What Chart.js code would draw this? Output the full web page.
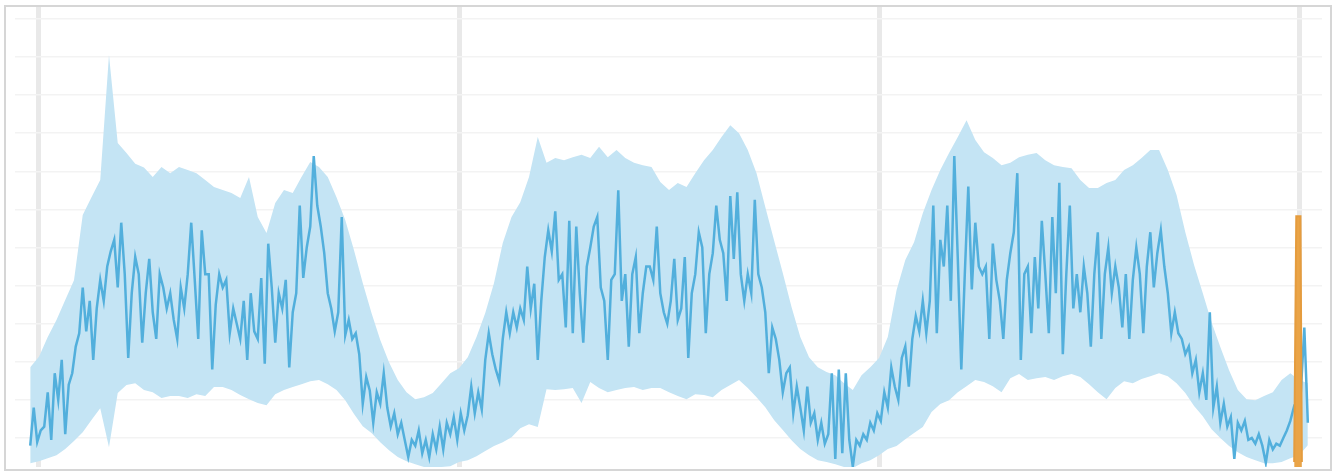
<!DOCTYPE html>
<html>
<head>
<meta charset="utf-8">
<title>Load over three days</title>
<script src="https://cdn.jsdelivr.net/npm/chart.js@4/dist/chart.umd.min.js"></script>
<style>
  html, body { margin: 0; padding: 0; background: #ffffff; }
  #wrap { position: relative; width: 1342px; height: 473px; }
  #wrap canvas { position: absolute; left: 0; top: 0; }
  #frame {
    position: absolute; left: 4px; top: 5px;
    width: 1324px; height: 462px;
    border: 2px solid #d6d6d6; pointer-events: none;
  }
</style>
</head>
<body>
<div id="wrap">
  <canvas id="chart" width="1342" height="473"></canvas>
  <div id="frame"></div>
</div>
<script>
// Time axis: hours from the first midnight
const seriesStartHour = -0.5;
const loadStepHours = 0.2;     // 12-minute samples
const bandStepHours = 0.5;     // 30-minute envelope samples
const dayTicks = [0, 24, 48, 72];
const levelTicks = [10, 20, 30, 40, 50, 60, 70, 80, 90, 100, 110, 120];

// Measured load
const load = [
  8, 18, 9, 12, 13, 22, 9.5, 27, 20, 30.5,
  11, 24, 27, 34, 37.5, 49.5, 38, 46, 30.5, 44,
  51.5, 46, 55, 59, 62, 49.5, 66.5, 53, 31, 48,
  57.5, 53, 35, 48, 57, 43, 36, 53, 49.5, 44,
  48, 41, 36, 49.5, 44, 53, 66.5, 51.5, 36, 64.5,
  53, 53, 28, 45, 53, 49.5,
  51.5, 37.5, 44, 40, 36, 46, 30.5, 48, 38, 36,
  52, 29.5, 61, 49.5, 35, 48, 44, 51.5, 28.5, 43,
  48, 71, 52, 60, 65.5, 84, 71, 65.5, 58.5, 48,
  44, 38, 43, 68, 37, 41, 36, 37.5, 32, 19,
  26, 22.5, 14, 22, 19, 27, 18, 13, 16.5, 11,
  14, 9.5, 5, 9.5, 8, 12, 6, 9.5, 5, 11,
  7, 13, 7, 14,
  11, 15.5, 9.5, 16.5, 12, 16, 23.5, 16.5, 22, 17.5,
  30.5, 37.5, 32, 28, 25, 36, 43, 37.5, 43, 39,
  44, 41, 55, 44, 50.5, 30.5, 46, 57.5, 64.5, 59,
  69.5, 51.5, 53, 39, 67, 37.5, 65.5, 48, 35, 55,
  60, 65.5, 68, 49.5, 46, 30.5, 51.5, 53, 75, 46,
  53, 34, 53, 57.5, 37.5, 48, 55, 55, 51.5, 65.5,
  48, 43, 40, 46,
  57, 41, 44, 57.5, 31, 48, 53, 64, 60, 37.5,
  53, 58.5, 71, 62, 58.5, 46, 73.5, 57, 74.5, 53,
  46, 53, 48, 72.5, 53, 49.5, 43, 27, 39, 36,
  30.5, 22, 27, 28.5, 16.5, 23.5, 18, 12, 23.5, 14,
  16.5, 9.5, 14, 8.5, 11, 27, 4.5, 28, 6, 27,
  9.5, 2.5, 9.5, 8, 11, 9.5, 14, 12, 16.5, 14.5,
  22, 18, 28.5, 23.5,
  20, 31, 34, 23.5, 36, 42, 38, 46, 37.5, 46,
  71, 37.5, 62, 55, 71, 46, 84, 57, 28, 53,
  76, 49, 66.5, 55, 53, 55, 36, 61, 51.5, 46,
  36, 51.5, 58.5, 64, 79.5, 30.5, 53, 55, 37.5, 57.5,
  44, 67, 53, 37.5, 68, 48, 77, 32, 53, 71,
  44, 53, 43, 55, 48, 34, 53, 64, 36, 53,
  60, 48, 55, 49.5,
  39, 53, 36, 51.5, 60, 53, 37.5, 55, 64, 49.5,
  58.5, 64.5, 55, 48, 37.5, 43, 37.5, 36, 32, 34,
  27, 30.5, 22, 27, 20, 43, 18, 23.5, 14, 19,
  13, 15.5, 4.5, 14, 12, 14.5, 9.5, 10, 8.5, 11,
  8, 3.5, 9.5, 7, 8.5, 8, 10, 12, 14.5, 18,
  16, 22, 39, 14
];

// Envelope of expected load (upper and lower bound)
const bandUpper = [
  28.6, 31.3, 36.5, 41, 46.2, 51.4, 68.5, 73.2, 77.7, 110.5,
  87.4, 84.8, 82, 81, 78.5, 81.1, 79.5, 81.1, 80.3, 79.5,
  77.7, 75.9, 75.1, 74.3, 73, 78.5, 68, 63.8, 71.7, 75.1,
  74.3, 78.5, 82.4, 81.1, 78.5, 73.2, 67.2, 59.3, 50.7, 42.8,
  35.7, 29.9, 25.2, 22, 20.2, 20.7, 21.8, 24.4, 27, 28.3,
  31.2, 36.5, 42.8, 50.7, 61.2, 68, 71.9, 78.5, 89, 82.2,
  83.5, 82.9, 83.7, 84.3, 83.5, 86.4, 83.7, 85.6, 83.5, 82.2,
  81.6, 81.1, 77.2, 75.1, 76.9, 75.9, 79.5, 82.9, 85.6, 89,
  92.1, 90, 85.6, 79.5, 70.6, 61.9, 53.3, 44.4, 36.5, 31.2,
  28.6, 27.3, 26.5, 24.4, 22.6, 26.5, 28.6, 31, 36.5, 48.8,
  56.7, 61.4, 69, 75.1, 80.3, 84.8, 89, 93.4, 88.2, 85,
  83.5, 81.6, 82.2, 83.7, 84.3, 84.8, 82.9, 81.6, 81.1, 80.8,
  77.7, 75.6, 75.6, 76.9, 77.7, 80.3, 81.6, 83.5, 85.6, 85.6,
  80.3, 73.8, 64, 55.4, 48, 40.4, 33.9, 27.8, 22.6, 20.2,
  19.9, 21, 22, 25.2, 27, 25.2, 24.4
];
const bandLower = [
  3.4, 3.9, 4.7, 5.5, 7.1, 9.2, 11.5, 14.7, 17.8, 7.6,
  21.8, 23.9, 24.4, 22.6, 22, 20.5, 21, 21, 20.5, 21.5,
  21, 23.4, 23.4, 22.6, 21.3, 20.2, 19.2, 18.6, 21.5, 22.6,
  23.4, 24.1, 24.9, 25.2, 24.1, 22.6, 19.9, 16.3, 13.1, 11.3,
  8.9, 6.8, 5, 3.9, 3.1, 2.4, 2.4, 2.4, 2.6, 3.7,
  4.2, 5.2, 6.6, 7.9, 8.9, 10.2, 12.6, 13.6, 12.9, 22.8,
  22.6, 22.8, 23.1, 19.2, 24.7, 23.1, 22, 22.6, 23.1, 23.4,
  22.6, 23.1, 23.1, 22, 21, 20.2, 21.5, 21.3, 20.7, 22.6,
  23.9, 25.2, 23.1, 20.7, 18.1, 14.7, 12.1, 9.4, 7.1, 5.5,
  4.2, 3.7, 3.1, 2.4, 2.1, 3.4, 4.2, 5.5, 7.1, 7.9,
  9.7, 11.3, 12.9, 16.8, 18.9, 19.9, 22, 23.6, 25.2, 24.7,
  23.6, 22, 25.7, 26.8, 25.2, 25.7, 26, 25.2, 26.2, 26.8,
  26, 24.1, 22, 20.2, 23.1, 24.9, 24.4, 25.5, 26.2, 27,
  26.2, 24.4, 21.8, 18.4, 15.7, 12.3, 10, 7.9, 6.3, 5,
  4.2, 3.4, 3.4, 3.7, 4.7, 5.5, 8.1
];

// Latest reading (highlighted burst)
const latestHours = [71.72, 71.84, 72.08, 72.16];
const latestValues = [3.7, 68.2, 68.2, 3.7];

const toPoints = (values, start, step) =>
  values.map((v, i) => ({ x: start + i * step, y: v }));

const fixedTicks = list => scale => {
  scale.ticks = list.map(v => ({ value: v }));
};

new Chart(document.getElementById('chart'), {
  type: 'line',
  data: {
    datasets: [
      {
        label: 'Latest',
        data: latestHours.map((h, i) => ({ x: h, y: latestValues[i] })),
        borderColor: '#e59c3e',
        backgroundColor: '#eaa447',
        borderWidth: 2,
        fill: 'origin',
        order: 0
      },
      {
        label: 'Load',
        data: toPoints(load, seriesStartHour, loadStepHours),
        borderColor: '#52afdc',
        borderWidth: 2.5,
        fill: false,
        order: 1
      },
      {
        label: 'Upper bound',
        data: toPoints(bandUpper, seriesStartHour, bandStepHours),
        borderColor: 'rgba(0,0,0,0)',
        borderWidth: 0,
        backgroundColor: '#c4e4f4',
        fill: '+1',
        order: 2
      },
      {
        label: 'Lower bound',
        data: toPoints(bandLower, seriesStartHour, bandStepHours),
        borderColor: 'rgba(0,0,0,0)',
        borderWidth: 0,
        fill: false,
        order: 3
      }
    ]
  },
  options: {
    responsive: false,
    animation: false,
    devicePixelRatio: 1,
    layout: { padding: { left: 15, right: 20, top: 7, bottom: 6 } },
    elements: {
      point: { radius: 0, hoverRadius: 0 },
      line: { tension: 0 }
    },
    plugins: {
      legend: { display: false },
      tooltip: { enabled: false }
    },
    scales: {
      x: {
        type: 'linear',
        min: -1.37,
        max: 73.31,
        afterBuildTicks: fixedTicks(dayTicks),
        ticks: { display: false },
        grid: { color: '#e9e9e9', lineWidth: 5, drawTicks: false },
        border: { display: false }
      },
      y: {
        type: 'linear',
        min: 2.4,
        max: 123.1,
        afterBuildTicks: fixedTicks(levelTicks),
        ticks: { display: false },
        grid: { color: '#f3f3f3', lineWidth: 1.5, drawTicks: false },
        border: { display: false }
      }
    }
  }
});
</script>
</body>
</html>
